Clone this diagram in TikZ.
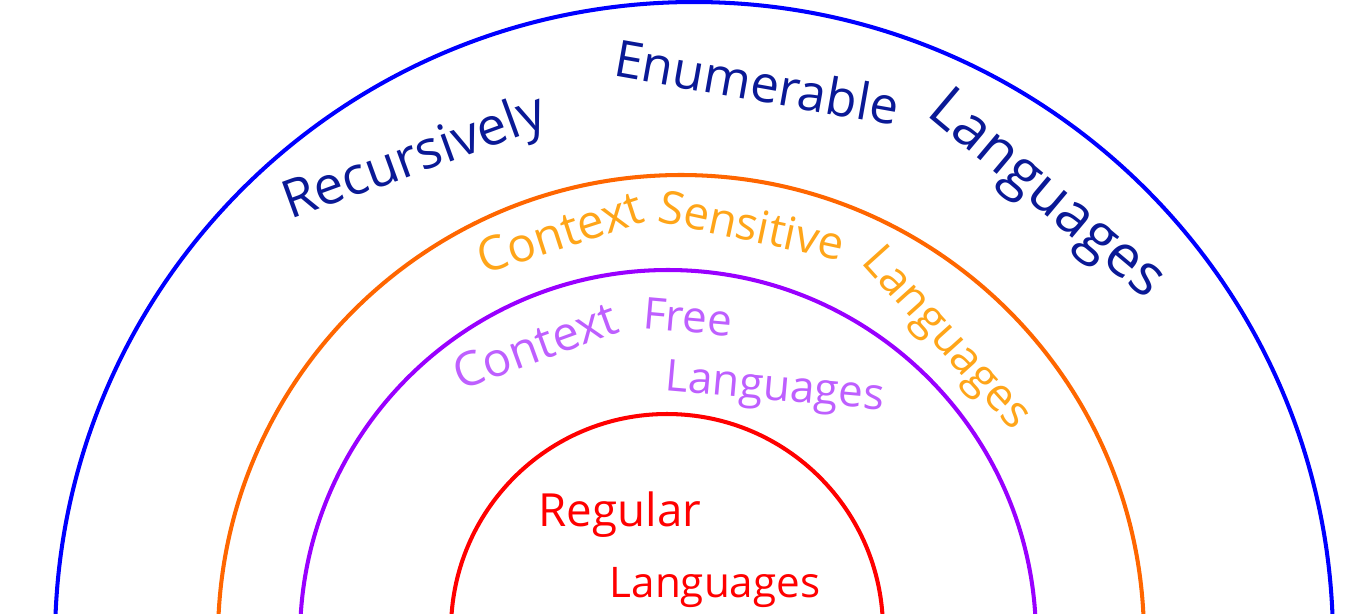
\documentclass[tikz,border=0pt]{standalone}
\usepackage{fontspec}
\usepackage{xcolor}
\usepackage{tikz}

\newfontfamily\handfont{Open Sans}

\definecolor{reblue}{RGB}{0,0,255}
\definecolor{reink}{RGB}{10,25,150}
\definecolor{csorange}{RGB}{255,102,0}
\definecolor{csink}{RGB}{255,165,25}
\definecolor{cfpurple}{RGB}{153,0,255}
\definecolor{cfink}{RGB}{190,95,255}
\definecolor{regred}{RGB}{255,0,0}

\begin{document}
\begin{tikzpicture}[x=0.02cm, y=-0.02cm,
  ring/.style={line width=2.3pt},
  hand/.style={inner sep=0pt, font=\handfont\fontsize{#1}{#1}\selectfont}]

\useasboundingbox (0,0) rectangle (1370,613);
\clip (0,0) rectangle (1370,613);

% Centres of the four rings
\coordinate (re)  at (694,641);
\coordinate (cs)  at (681,638);
\coordinate (cf)  at (668,638);
\coordinate (reg) at (667,630);

\draw[ring, reblue]   (re)  circle[radius=639];
\draw[ring, csorange] (cs)  circle[radius=463];
\draw[ring, cfpurple] (cf)  circle[radius=368];
\draw[ring, regred]   (reg) circle[radius=216];

% Recursively enumerable
\node[hand=30, text=reink, rotate=20]  (re-rec)  at (415,160) {Recursively};
\node[hand=29, text=reink, rotate=-10] (re-enum) at (757,82)  {Enumerable};
\node[hand=33, text=reink, rotate=-40] (re-lang) at (1045,197) {Languages};

% Context sensitive
\node[hand=27, text=csink, rotate=18]  (cs-con)  at (560,232) {Context};
\node[hand=26, text=csink, rotate=-12] (cs-sens) at (752,225) {Sensitive};
\node[hand=26, text=csink, rotate=-48] (cs-lang) at (945,340) {Languages};

% Context free
\node[hand=27, text=cfink, rotate=20]  (cf-con)  at (535,345) {Context};
\node[hand=25, text=cfink, rotate=-5]  (cf-free) at (688,317) {Free};
\node[hand=25, text=cfink, rotate=-5]  (cf-lang) at (775,390) {Languages};

% Regular
\node[hand=26, text=regred] (reg-reg)  at (620,515) {Regular};
\node[hand=24, text=regred] (reg-lang) at (715,588) {Languages};

\end{tikzpicture}
\end{document}
